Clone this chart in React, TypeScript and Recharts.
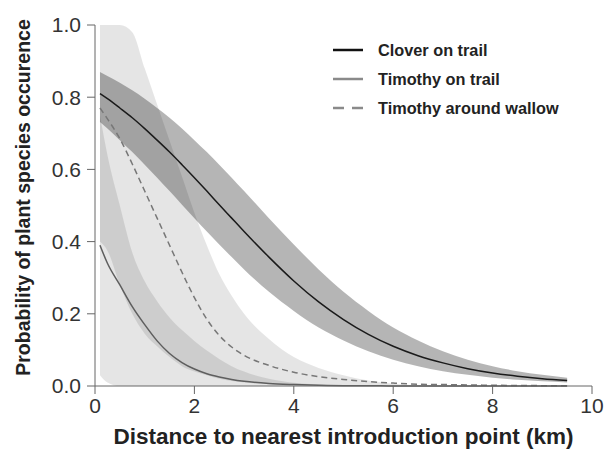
import React from "react";
import {
  ComposedChart,
  Area,
  Line,
  XAxis,
  YAxis,
  Label,
} from "recharts";

// distance (km) at which the fitted curves were read
const distance = [0.1, 0.25, 0.5, 0.75, 1, 1.25, 1.5, 1.75, 2, 2.25, 2.5, 2.75, 3, 3.5, 4, 4.5, 5, 5.5, 6, 6.5, 7, 7.5, 8, 8.5, 9, 9.5];

// Clover on trail
const cloverMean = [0.81, 0.796, 0.77, 0.743, 0.713, 0.681, 0.648, 0.613, 0.577, 0.54, 0.502, 0.465, 0.428, 0.357, 0.291, 0.233, 0.184, 0.143, 0.11, 0.084, 0.064, 0.048, 0.036, 0.027, 0.02, 0.015];
const cloverLow = [0.731, 0.713, 0.681, 0.648, 0.613, 0.577, 0.54, 0.502, 0.465, 0.428, 0.392, 0.357, 0.323, 0.261, 0.208, 0.162, 0.126, 0.096, 0.073, 0.055, 0.041, 0.031, 0.023, 0.017, 0.013, 0.01];
const cloverHigh = [0.87, 0.859, 0.84, 0.819, 0.796, 0.77, 0.743, 0.713, 0.681, 0.648, 0.613, 0.577, 0.54, 0.465, 0.392, 0.323, 0.261, 0.208, 0.162, 0.126, 0.096, 0.073, 0.055, 0.041, 0.031, 0.023];

// Timothy on trail
const trailMean = [0.39, 0.34, 0.28, 0.22, 0.17, 0.125, 0.09, 0.065, 0.047, 0.034, 0.025, 0.018, 0.013, 0.007, 0.004, 0.002, 0.001, 0.001, 0, 0, 0, 0, 0, 0, 0, 0];
const trailLow = [0.03, 0.01, 0, 0, 0, 0, 0, 0, 0, 0, 0, 0, 0, 0, 0, 0, 0, 0, 0, 0, 0, 0, 0, 0, 0, 0];
const trailHigh = [0.75, 0.64, 0.5, 0.37, 0.29, 0.235, 0.19, 0.155, 0.125, 0.098, 0.075, 0.055, 0.04, 0.02, 0.009, 0.004, 0.0015, 0, 0, 0, 0, 0, 0, 0, 0, 0];

// Timothy around wallow
const wallowMean = [0.77, 0.74, 0.685, 0.615, 0.54, 0.465, 0.39, 0.315, 0.245, 0.185, 0.14, 0.108, 0.085, 0.057, 0.038, 0.026, 0.018, 0.012, 0.008, 0.005, 0.004, 0.003, 0.002, 0.0015, 0.001, 0.001];
const wallowLow = [0.4, 0.375, 0.28, 0.2, 0.145, 0.11, 0.08, 0.055, 0.04, 0.03, 0.02, 0.014, 0.01, 0.005, 0.002, 0.001, 0, 0, 0, 0, 0, 0, 0, 0, 0, 0];
const wallowHigh = [1, 1, 1, 0.98, 0.88, 0.78, 0.68, 0.58, 0.48, 0.39, 0.31, 0.25, 0.2, 0.13, 0.08, 0.05, 0.03, 0.015, 0.006, 0.002, 0.001, 0, 0, 0, 0, 0];

const xTicks = [0, 2, 4, 6, 8, 10];
const yTicks = [0, 0.2, 0.4, 0.6, 0.8, 1.0];

const legendItems = [
  { name: "Clover on trail", color: "#111", dash: "" },
  { name: "Timothy on trail", color: "#8a8a8a", dash: "" },
  { name: "Timothy around wallow", color: "#8a8a8a", dash: "11 8" },
];

const data = distance.map((d, i) => ({
  x: d,
  clover: cloverMean[i],
  cloverBand: [cloverLow[i], cloverHigh[i]],
  trail: trailMean[i],
  trailBand: [trailLow[i], trailHigh[i]],
  wallow: wallowMean[i],
  wallowBand: [wallowLow[i], wallowHigh[i]],
}));

const FONT = "'Liberation Sans', Arial, sans-serif";

// legend drawn as an overlay so it doesn't take space from the plot
const ChartLegend = () => (
  <svg width={260} height={90} style={{ position: "absolute", left: 328, top: 38 }}>
    {legendItems.map((item, i) => (
      <g key={item.name} transform={`translate(0, ${12 + i * 29})`}>
        <line x1={5} x2={35} y1={0} y2={0} stroke={item.color} strokeWidth={2.5} strokeDasharray={item.dash} />
        <text x={50} y={0} dy="0.35em" fontFamily={FONT} fontWeight="bold" fontSize={16.3} fill="#222">
          {item.name}
        </text>
      </g>
    ))}
  </svg>
);

export default function App() {
  return (
    <div style={{ position: "absolute", left: 0, top: 0, width: 612, height: 454, background: "#fff" }}>
      <ComposedChart width={612} height={454} data={data} margin={{ top: 25, right: 20, bottom: 38, left: 10 }}>
        <XAxis
          type="number"
          dataKey="x"
          domain={[0, 10]}
          ticks={xTicks}
          tickSize={8}
          tickMargin={4}
          stroke="#666"
          tick={{ fill: "#333", fontSize: 21, fontFamily: FONT }}
          height={30}
        >
          <Label
            content={({ viewBox }: any) => (
              <text
                x={viewBox.x + viewBox.width / 2}
                y={viewBox.y + 58}
                textAnchor="middle"
                fontFamily={FONT}
                fontWeight="bold"
                fontSize={22.5}
                fill="#222"
              >
                Distance to nearest introduction point (km)
              </text>
            )}
          />
        </XAxis>
        <YAxis
          type="number"
          domain={[0, 1]}
          ticks={yTicks}
          tickFormatter={(v: number) => v.toFixed(1)}
          tickSize={8}
          tickMargin={6}
          stroke="#666"
          tick={{ fill: "#333", fontSize: 21, fontFamily: FONT }}
          width={85}
        >
          <Label
            content={({ viewBox }: any) => {
              const cx = viewBox.x + 13;
              const cy = viewBox.y + viewBox.height / 2 - 8;
              return (
                <text
                  x={cx}
                  y={cy}
                  transform={`rotate(-90, ${cx}, ${cy})`}
                  textAnchor="middle"
                  dominantBaseline="central"
                  fontFamily={FONT}
                  fontWeight="bold"
                  fontSize={19.5}
                  fill="#222"
                >
                  Probability of plant species occurence
                </text>
              );
            }}
          />
        </YAxis>
        <Area type="monotone" dataKey="wallowBand" stroke="none" fill="#000" fillOpacity={0.1} isAnimationActive={false} />
        <Area type="monotone" dataKey="trailBand" stroke="none" fill="#000" fillOpacity={0.1} isAnimationActive={false} />
        <Area type="monotone" dataKey="cloverBand" stroke="none" fill="#000" fillOpacity={0.29} isAnimationActive={false} />
        <Line type="monotone" dataKey="wallow" stroke="#777" strokeWidth={1.5} strokeDasharray="6 4" dot={false} isAnimationActive={false} />
        <Line type="monotone" dataKey="trail" stroke="#5e5e5e" strokeWidth={1.5} dot={false} isAnimationActive={false} />
        <Line type="monotone" dataKey="clover" stroke="#1a1a1a" strokeWidth={1.5} dot={false} isAnimationActive={false} />
      </ComposedChart>
      <ChartLegend />
    </div>
  );
}
